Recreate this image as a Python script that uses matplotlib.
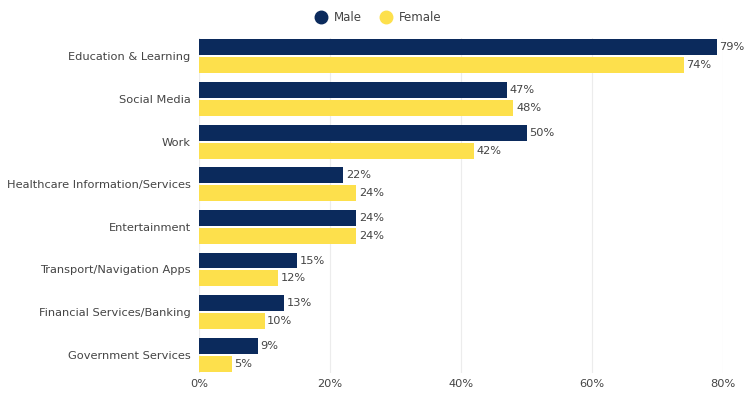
import numpy as np
import matplotlib.pyplot as plt
from matplotlib.lines import Line2D

# dades
categories = ['Education & Learning', 'Social Media', 'Work',
              'Healthcare Information/Services', 'Entertainment',
              'Transport/Navigation Apps', 'Financial Services/Banking',
              'Government Services']
male = [79, 47, 50, 22, 24, 15, 13, 9]
female = [74, 48, 42, 24, 24, 12, 10, 5]
xticks = [0, 20, 40, 60, 80]

c_male = '#0b2a5c'
c_female = '#fde04c'
c_text = '#444444'

fig = plt.figure(figsize=(7.54, 4.05), dpi=100)
ax = fig.add_axes([0.264, 0.079, 0.695, 0.827])

y = np.arange(len(categories))
h = 0.375
off = 0.21
ax.barh(y - off, male, height=h, color=c_male, zorder=3)
ax.barh(y + off, female, height=h, color=c_female, zorder=3)

for i in range(len(categories)):
    ax.text(male[i] + 0.4, y[i] - off, f'{male[i]}%', va='center', ha='left',
            fontsize=8.2, color=c_text)
    ax.text(female[i] + 0.4, y[i] + off, f'{female[i]}%', va='center', ha='left',
            fontsize=8.2, color=c_text)

ax.set_xlim(0, 80)
ax.set_ylim(len(categories) - 0.57, -0.43)
ax.set_yticks(y)
ax.set_yticklabels(categories, fontsize=8.2, color=c_text)
ax.set_xticks(xticks)
ax.set_xticklabels([f'{v}%' for v in xticks], fontsize=8.2, color=c_text)
ax.tick_params(axis='y', length=0, pad=6)
ax.tick_params(axis='x', length=0, pad=4)
ax.grid(axis='x', color='#ececec', linewidth=0.8, zorder=0)
for s in ax.spines.values():
    s.set_visible(False)

handles = [Line2D([], [], marker='o', linestyle='', markersize=9, color=c_male),
           Line2D([], [], marker='o', linestyle='', markersize=9, color=c_female)]
fig.legend(handles, ['Male', 'Female'], loc='center', bbox_to_anchor=(0.498, 0.957),
           ncol=2, frameon=False, fontsize=8.5, labelcolor=c_text,
           handletextpad=0.1, columnspacing=1.0)

fig.savefig('out.png', dpi=100)
